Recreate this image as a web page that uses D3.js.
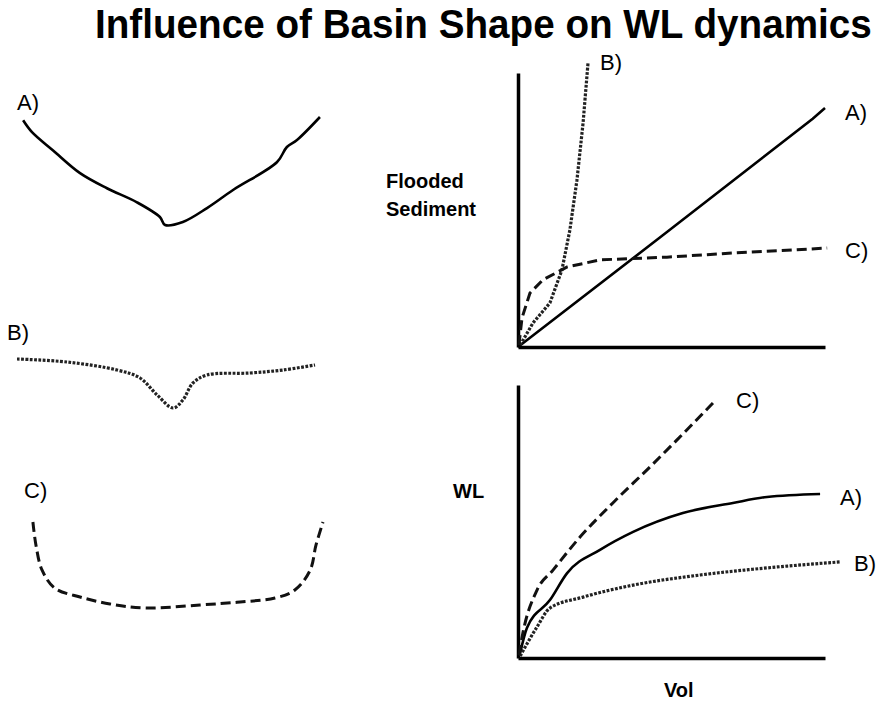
<!DOCTYPE html>
<html>
<head>
<meta charset="utf-8">
<script src="https://cdn.jsdelivr.net/npm/d3@7"></script>
<style>
  body { margin: 0; background: #fff; }
  svg { display: block; font-family: "Liberation Sans", Arial, sans-serif; }
  .lbl { font-size: 22px; fill: #000; }
  .axlbl { font-size: 20px; font-weight: bold; fill: #000; }
  .solid { fill: none; stroke: #000; stroke-width: 2.6; }
  .dotted { fill: none; stroke: #222; stroke-width: 3.2; stroke-dasharray: 2.8,1.5; }
  .dashed { fill: none; stroke: #111; stroke-width: 3; stroke-dasharray: 10,5; }
  .axis path { stroke: #000; stroke-width: 3.5; }
</style>
</head>
<body>
<script>
//basin cross-sections (distance 0-100, elevation 0-100 in each panel)
var basinA = [[2,97],[4.9,86],[11.8,69],[20.6,48],[29.4,34],[39.2,21],[46.7,7.4],[48.4,0],[54.2,2.8],[62.1,15.7],[70.6,32.4],[85,58.3],[88.2,72.2],[91.5,78.7],[99,100]];
var basinB = [[0,98],[16.3,92],[32.7,76],[40.2,60],[45.8,26],[51,0],[54.2,16],[57.5,50],[62.1,66],[76.1,70],[86.9,76],[97.4,86]];
var basinC = [[5.2,100],[6.2,73],[8.2,44],[12.4,23],[20.6,12.8],[30.4,4.7],[41.8,0],[59.8,3.5],[72.9,7],[84.3,11.6],[90.8,20.9],[95.8,44],[97.7,73],[100,100]];

//flooded sediment vs volume
var sedA = [[0,0],[48,41.5],[96,83.3],[100,87.2]];
var sedB = [[0.7,0.7],[4.9,8.8],[10.4,16.1],[14.3,28.1],[16.9,42.7],[19.2,60.9],[21.2,81.8],[22.8,103.6]];
var sedC = [[0.3,0.7],[1.3,10.6],[3.9,19.7],[8.1,24.5],[16,29.2],[26.7,31.8],[48.5,32.8],[70,34.3],[100.7,36.1]];

//water level vs volume
var wlA = [[0.7,1.8],[2.9,11],[10.4,21.2],[16,31.1],[26.7,39.6],[37.5,46.2],[53.7,53.1],[70,56.8],[81.1,59],[98.4,60.1]];
var wlB = [[0.7,0.7],[6.2,11.4],[10.4,18.3],[21.2,22.3],[37.5,26.7],[59.3,30.4],[81.1,33],[104.9,35.2]];
var wlC = [[0.3,1.1],[1.6,9.2],[6.2,24.9],[11.4,32.2],[20.2,44.3],[30.9,56.8],[43,70],[51.8,79.9],[63.5,93.4]];

var width = 880, height = 704;

var svg = d3.select("body").append("svg")
    .attr("width", width)
    .attr("height", height);

//title - squeezed horizontally to fit like the original narrow font
var title = svg.append("text")
    .attr("x", 0)
    .attr("y", 0)
    .style("font-size", "40px")
    .style("font-weight", "bold")
    .text("Influence of Basin Shape on WL dynamics");
var tw = title.node().getComputedTextLength();
title.attr("transform", "translate(95,38) scale(" + (777 / tw) + ",1)");

//left side: basin shapes
var xBasin = d3.scaleLinear().domain([0, 100]).range([17, 323]);

function drawBasin(data, top, bottom, cls, label, lx, ly){
    var y = d3.scaleLinear().domain([0, 100]).range([bottom, top]);
    var line = d3.line()
        .x(function(d){ return xBasin(d[0]); })
        .y(function(d){ return y(d[1]); })
        .curve(d3.curveCatmullRom);
    svg.append("path")
        .datum(data)
        .attr("class", cls)
        .attr("d", line);
    svg.append("text")
        .attr("class", "lbl")
        .attr("x", lx)
        .attr("y", ly)
        .text(label);
};

drawBasin(basinA, 117, 225, "solid", "A)", 17, 110);
drawBasin(basinB, 358, 408, "dotted", "B)", 7, 340);
drawBasin(basinC, 522, 608, "dashed", "C)", 24, 498);

//right side: two small plots
function drawPlot(top, bottom, series, labels, curve){
    var x = d3.scaleLinear().domain([0, 100]).range([518, 825]);
    var y = d3.scaleLinear().domain([0, 100]).range([bottom, top]);

    svg.append("g")
        .attr("class", "axis")
        .attr("transform", "translate(0," + bottom + ")")
        .call(d3.axisBottom(x).ticks(0).tickSizeOuter(0));
    svg.append("g")
        .attr("class", "axis")
        .attr("transform", "translate(518,0)")
        .call(d3.axisLeft(y).ticks(0).tickSizeOuter(0));

    var line = d3.line()
        .x(function(d){ return x(d[0]); })
        .y(function(d){ return y(d[1]); })
        .curve(curve);

    series.forEach(function(s){
        svg.append("path")
            .datum(s.data)
            .attr("class", s.cls)
            .attr("d", line);
    });
    labels.forEach(function(l){
        svg.append("text")
            .attr("class", "lbl")
            .attr("x", l.x)
            .attr("y", l.y)
            .text(l.text);
    });
};

drawPlot(73, 347,
    [{data: sedA, cls: "solid"}, {data: sedB, cls: "dotted"}, {data: sedC, cls: "dashed"}],
    [{text: "B)", x: 600, y: 70}, {text: "A)", x: 845, y: 120}, {text: "C)", x: 845, y: 258}],
    d3.curveLinear);

drawPlot(385, 658,
    [{data: wlA, cls: "solid"}, {data: wlB, cls: "dotted"}, {data: wlC, cls: "dashed"}],
    [{text: "C)", x: 736, y: 408}, {text: "A)", x: 840, y: 505}, {text: "B)", x: 854, y: 571}],
    d3.curveMonotoneX);

//axis titles
svg.append("text").attr("class", "axlbl").attr("x", 386).attr("y", 188).text("Flooded");
svg.append("text").attr("class", "axlbl").attr("x", 386).attr("y", 216).text("Sediment");
svg.append("text").attr("class", "axlbl").attr("x", 453).attr("y", 498).text("WL");
svg.append("text").attr("class", "axlbl").attr("x", 664).attr("y", 697).text("Vol");
</script>
</body>
</html>
